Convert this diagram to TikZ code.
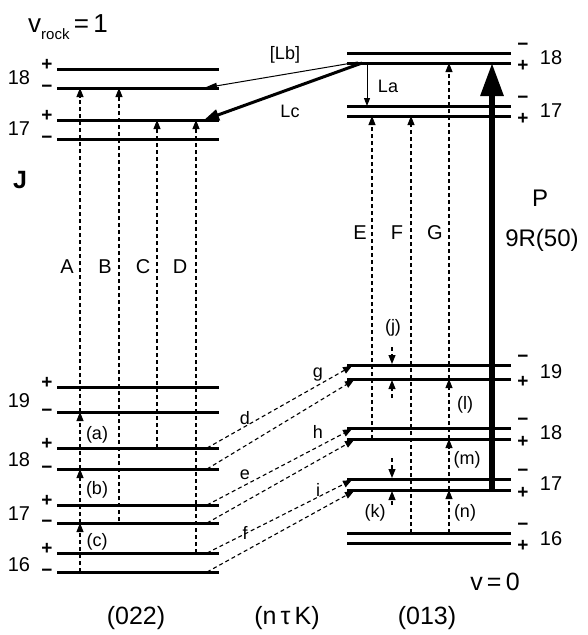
\documentclass[tikz,border=0pt]{standalone}
\usepackage{fontspec}
\setmainfont{Liberation Sans}
\usetikzlibrary{arrows.meta}
\begin{document}
\begin{tikzpicture}[x=1pt,y=-1pt,
  level/.style={line width=3pt},
  dtrans/.style={line width=1.1pt, dash pattern=on 4pt off 3pt, -{Triangle[length=9pt,width=7pt]}},
  lab/.style={font=\fontsize{20}{20}\selectfont, inner sep=0pt},
  slab/.style={font=\fontsize{18}{18}\selectfont, inner sep=0pt},
  blab/.style={font=\fontsize{24}{24}\selectfont, inner sep=0pt},
  sgn/.style={font=\fontsize{19}{19}\selectfont\bfseries, inner sep=0pt},
  bigt/.style={font=\fontsize{25}{25}\selectfont, inner sep=0pt},
]
\useasboundingbox (0,0) rectangle (587,635);

% ---------- level lines ----------
\foreach \y in {69,88,120,139,387,412,448,469,505,523,553,572}
  \draw[level] (57,\y) -- (219,\y);
\foreach \y in {53,63,106,116,365,379,428,439,479,490,533,543}
  \draw[level] (347,\y) -- (511,\y);

% ---------- left signs and J numbers ----------
\foreach \yp/\ym/\n/\yn in {69/88/18/78, 120/139/17/129, 387/412/19/401, 448/469/18/460, 505/523/17/514, 553/572/16/565}{
  \node[sgn] at (47,\yp-4) {+};
  \node[sgn] at (47,\ym+1) {−};
  \node[lab] at (19,\yn) {\n};
}
% ---------- right signs and J numbers ----------
\foreach \ym/\yp/\n/\yn in {53/63/18/58, 106/116/17/111, 365/379/19/372, 428/439/18/433, 479/490/17/484, 533/543/16/539}{
  \node[sgn] at (523,\ym-6) {−};
  \node[sgn] at (523,\yp+3) {+};
  \node[lab] at (551,\yn) {\n};
}

% ---------- left dashed transitions ----------
\coordinate (A0) at (80,572); \coordinate (A1) at (80,523);
\coordinate (A2) at (80,469); \coordinate (A3) at (80,412);
\coordinate (A4) at (80,88);
\draw[dtrans] (A0) -- (A1);
\draw[dtrans] (A1) -- (A2);
\draw[dtrans] (A2) -- (A3);
\draw[dtrans] (A3) -- (A4);
\coordinate (B0) at (119,521); \coordinate (B1) at (119,88);
\draw[dtrans] (B0) -- (B1);
\coordinate (C0) at (157,448); \coordinate (C1) at (157,120);
\draw[dtrans] (C0) -- (C1);
\coordinate (D0) at (196,553); \coordinate (D1) at (196,120);
\draw[dtrans] (D0) -- (D1);

% ---------- right dashed transitions ----------
\coordinate (E0) at (372,439); \coordinate (E1) at (372,116);
\draw[dtrans] (E0) -- (E1);
\coordinate (F0) at (411,533); \coordinate (F1) at (411,116);
\draw[dtrans] (F0) -- (F1);
\coordinate (G0) at (449,533); \coordinate (G1) at (449,490);
\coordinate (G2) at (449,439); \coordinate (G3) at (449,379);
\coordinate (G4) at (449,63);
\draw[dtrans] (G0) -- (G1);
\draw[dtrans] (G1) -- (G2);
\draw[dtrans] (G2) -- (G3);
\draw[dtrans] (G3) -- (G4);

% small arrows
\coordinate (j0) at (392,347); \coordinate (j1) at (392,364);
\draw[dtrans] (j0) -- (j1);
\coordinate (u0) at (392,398); \coordinate (u1) at (392,380);
\draw[dtrans] (u0) -- (u1);
\coordinate (k0) at (392,458); \coordinate (k1) at (392,478);
\draw[dtrans] (k0) -- (k1);
\coordinate (k2) at (392,505); \coordinate (k3) at (392,491);
\draw[dtrans] (k2) -- (k3);

% ---------- connectors d,e,f -> g,h,i ----------
\coordinate (d1) at (207,448); \coordinate (g1) at (352,366);
\coordinate (d2) at (207,469); \coordinate (g2) at (354,380);
\coordinate (e1) at (207,505); \coordinate (h1) at (352,429);
\coordinate (e2) at (207,523); \coordinate (h2) at (354,440);
\coordinate (f1) at (207,553); \coordinate (i1) at (352,480);
\coordinate (f2) at (207,572); \coordinate (i2) at (354,491);
\foreach \a/\b in {d1/g1,d2/g2,e1/h1,e2/h2,f1/i1,f2/i2}
  \draw[dtrans] (\a) -- (\b);

% ---------- La, Lb, Lc ----------
\coordinate (La0) at (367,63); \coordinate (La1) at (367,106);
\draw[line width=1pt, -{Triangle[length=8pt,width=6pt]}] (La0) -- (La1);
\coordinate (Lb0) at (358,62); \coordinate (Lb1) at (204,88);
\draw[line width=1pt, -{Triangle[length=13pt,width=6pt]}] (Lb0) -- (Lb1);
\coordinate (Lc0) at (362,63); \coordinate (Lc1) at (204,120);
\draw[line width=3pt, -{Triangle[length=15pt,width=11pt]}] (Lc0) -- (Lc1);

% ---------- pump P ----------
\coordinate (P0) at (492,492); \coordinate (P1) at (492,63);
\draw[line width=6pt, -{Triangle[length=33pt,width=22pt]}] (P0) -- (P1);

% ---------- labels ----------
\node (vrock) [anchor=base west, font=\fontsize{26}{26}\selectfont, inner sep=0pt] at (28,32)
  {v\raisebox{-7pt}{\fontsize{15}{15}\selectfont rock}\,=\,1};
\node (J) [font=\fontsize{25}{25}\selectfont\bfseries, inner sep=0pt] at (20,180) {J};
\node (lA) [lab] at (67,267) {A};
\node (lB) [lab] at (105,267) {B};
\node (lC) [lab] at (143,267) {C};
\node (lD) [lab] at (180,267) {D};
\node (lE) [lab] at (360,233) {E};
\node (lF) [lab] at (397,233) {F};
\node (lG) [lab] at (435,233) {G};
\node (lP) [blab] at (540,198) {P};
\node (l9R) [blab] at (542,240) {9R(50)};
\node (lLb) [slab] at (285,55) {[Lb]};
\node (lLc) [slab] at (290,111) {Lc};
\node (lLa) [slab] at (388,86) {La};
\node (la) [slab] at (97,435) {(a)};
\node (lb) [slab] at (97,490) {(b)};
\node (lc) [slab] at (97,542) {(c)};
\node (ld) [slab] at (245,418) {d};
\node (le) [slab] at (245,475) {e};
\node (lf) [slab] at (245,533) {f};
\node (lg) [slab] at (318,375) {g};
\node (lh) [slab] at (318,432) {h};
\node (li) [slab] at (318,490) {i};
\node (lj) [slab] at (393,328) {(j)};
\node (lk) [slab] at (375,513) {(k)};
\node (ll) [slab] at (465,405) {(l)};
\node (lm) [slab] at (467,460) {(m)};
\node (ln) [slab] at (465,513) {(n)};
\node (v0) [bigt] at (495,582) {v\,=\,0};
\node (s022) [bigt] at (136,618) {(022)};
\node (sntk) [bigt] at (287,618) {(n\,τ\,K)};
\node (s013) [bigt] at (427,618) {(013)};
\end{tikzpicture}
\end{document}
